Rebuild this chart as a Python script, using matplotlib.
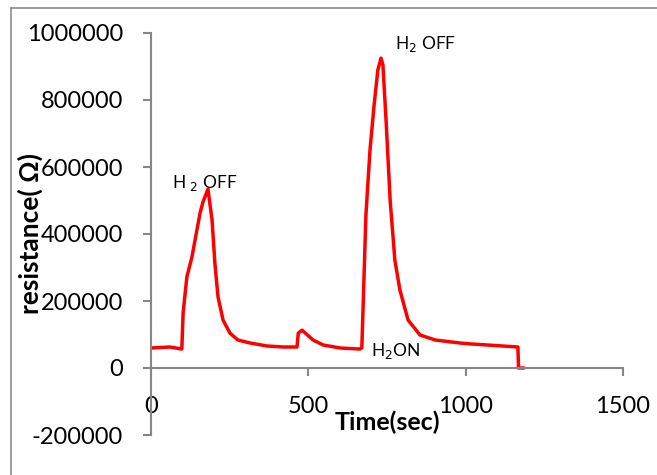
import matplotlib
matplotlib.use("Agg")
import matplotlib.pyplot as plt
from matplotlib.lines import Line2D

plt.rcParams['font.family'] = ['Lato', 'DejaVu Sans']

time_sec = [0, 60, 98, 102, 114, 130, 156, 165, 181, 194, 203, 213, 229, 251, 276, 315,
            369, 420, 464, 468, 480, 515, 547, 601, 664, 670, 683, 696, 709, 721, 731,
            737, 747, 760, 775, 791, 817, 855, 903, 982, 1014, 1166, 1168, 1182]
resistance = [59700, 62700, 56700, 164000, 272000, 331000, 463000, 495000, 534000, 442000,
              313000, 212000, 143000, 104000, 83600, 74600, 65700, 62700, 62700, 104000,
              113000, 83600, 68700, 59700, 56700, 60000, 457000, 651000, 785000, 890000,
              925000, 905000, 740000, 501000, 322000, 233000, 143000, 98500, 83600, 74600,
              72000, 62700, 0, 0]

x_ticks = [0, 500, 1000, 1500]
y_ticks = [-200000, 0, 200000, 400000, 600000, 800000, 1000000]
y_tick_labels = ['-200000', '0', '200000', '400000', '600000', '800000', '1000000']

W, H = 657, 475
fig = plt.figure(figsize=(W / 100, H / 100), dpi=100)
ax = fig.add_axes([151 / W, (H - 435) / H, (623 - 151) / W, (435 - 33) / H])

ax.plot(time_sec, resistance, color='#ff0000', lw=2.5, solid_joinstyle='round')

ax.set_xlim(0, 1500)
ax.set_ylim(-200000, 1000000)
ax.set_xticks(x_ticks)
ax.set_xticklabels([str(v) for v in x_ticks])
ax.set_yticks(y_ticks)
ax.set_yticklabels(y_tick_labels)

gray = '#868686'
for s in ['top', 'right']:
    ax.spines[s].set_visible(False)
ax.spines['bottom'].set_position(('data', 0))
ax.spines['left'].set_color(gray)
ax.spines['bottom'].set_color(gray)
ax.spines['left'].set_linewidth(1.5)
ax.spines['bottom'].set_linewidth(1.5)
ax.tick_params(axis='both', colors=gray, direction='out', length=6, width=1.5,
               labelcolor='black', labelsize=17)
ax.tick_params(axis='y', pad=14)
ax.tick_params(axis='x', pad=14)

ax.set_ylabel('resistance( Ω)', fontsize=19, fontweight='bold')
ax.yaxis.set_label_coords(-0.228, 0.5)
ax.set_xlabel('Time(sec)', fontsize=18, fontweight='bold')
ax.xaxis.set_label_coords(0.5, 0.062)

ax.text(67, 552000, r'H $_2$ OFF', fontsize=12.5, va='center', ha='left')
ax.text(775, 967000, r'H$_2$ OFF', fontsize=12.5, va='center', ha='left')
ax.text(699, 51000, r'H$_2$ON', fontsize=12.5, va='center', ha='left')

# outer chart frame
fig.add_artist(Line2D([10.5 / W, 10.5 / W], [0, 1 - 7.5 / H], transform=fig.transFigure,
                      color='#8c8c8c', lw=1.2))
fig.add_artist(Line2D([10.5 / W, 1], [1 - 7.5 / H, 1 - 7.5 / H], transform=fig.transFigure,
                      color='#8c8c8c', lw=1.2))

fig.savefig('out.png', dpi=100)
